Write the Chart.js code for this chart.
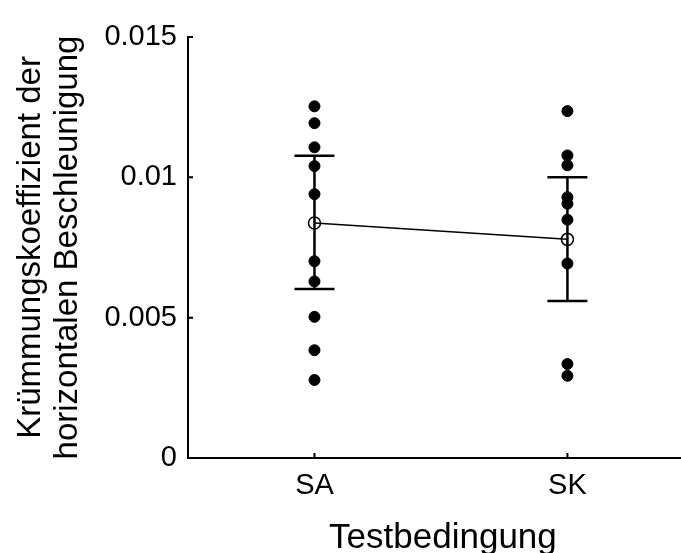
<!DOCTYPE html>
<html>
<head>
<meta charset="utf-8">
<script src="https://cdn.jsdelivr.net/npm/chart.js@4.4.0/dist/chart.umd.min.js"></script>
<style>
  html, body { margin: 0; padding: 0; background: #fff; }
</style>
</head>
<body>
<canvas id="chart" width="681" height="553"></canvas>
<script>
// values
const categories = ['SA', 'SK'];
const saValues = [0.01253, 0.01193, 0.01107, 0.01040, 0.00940, 0.00701, 0.00629, 0.00503, 0.00384, 0.00278];
const skValues = [0.01236, 0.01078, 0.01043, 0.00929, 0.00906, 0.00849, 0.00693, 0.00335, 0.00293];
const means    = [0.00837, 0.00779];
const errLow   = [0.00602, 0.00559];
const errHigh  = [0.01077, 0.01000];
const yTicks      = [0, 0.005, 0.01, 0.015];
const yTickLabels = ['0', '0.005', '0.01', '0.015'];
const xTitle = 'Testbedingung';
const yTitle = ['Krümmungskoeffizient der', 'horizontalen Beschleunigung'];

const FONT = '"Liberation Sans", Arial, Helvetica, sans-serif';

/* error bars, inward tick marks and the x title, positioned through the chart scales */
const errorBars = {
  id: 'errorBars',
  afterDatasetsDraw(chart) {
    const { ctx, scales: { x, y } } = chart;
    ctx.save();
    ctx.strokeStyle = '#000';
    ctx.lineWidth = 2.5;
    means.forEach((m, i) => {
      const px  = x.getPixelForValue(i + 1);
      const top = y.getPixelForValue(errHigh[i]);
      const bot = y.getPixelForValue(errLow[i]);
      ctx.beginPath();
      ctx.moveTo(px, top); ctx.lineTo(px, bot);
      ctx.moveTo(px - 20, top); ctx.lineTo(px + 20, top);
      ctx.moveTo(px - 20, bot); ctx.lineTo(px + 20, bot);
      ctx.stroke();
    });
    // ticks pointing into the plot
    ctx.lineWidth = 2;
    ctx.beginPath();
    yTicks.forEach(v => {
      const py = y.getPixelForValue(v);
      ctx.moveTo(x.left, py); ctx.lineTo(x.left + 5, py);
    });
    categories.forEach((c, i) => {
      const px = x.getPixelForValue(i + 1);
      ctx.moveTo(px, y.bottom); ctx.lineTo(px, y.bottom - 5);
    });
    ctx.stroke();
    // x title, centred between the two conditions
    ctx.fillStyle = '#000';
    ctx.font = `35px ${FONT}`;
    ctx.textAlign = 'center';
    ctx.textBaseline = 'alphabetic';
    ctx.fillText(xTitle, x.getPixelForValue(1.5) + 2, x.bottom - 5);
    ctx.restore();
  }
};

const dotStyle = {
  pointRadius: 5.5, pointHoverRadius: 5.5, pointBorderWidth: 1,
  pointBackgroundColor: '#000', pointBorderColor: '#000',
};

new Chart(document.getElementById('chart'), {
  type: 'scatter',
  data: {
    datasets: [
      { label: 'SA', data: saValues.map(v => ({ x: 1, y: v })), ...dotStyle },
      { label: 'SK', data: skValues.map(v => ({ x: 2, y: v })), ...dotStyle },
      { label: 'Mittelwert', data: means.map((m, i) => ({ x: i + 1, y: m })),
        showLine: true, borderColor: '#000', borderWidth: 1.5,
        pointRadius: 6, pointHoverRadius: 6, pointBorderWidth: 1.5,
        pointBackgroundColor: 'rgba(0,0,0,0)', pointBorderColor: '#000' },
    ],
  },
  options: {
    responsive: false, animation: false, devicePixelRatio: 1,
    layout: { autoPadding: false, padding: { top: 37, right: 0, bottom: 0, left: 0 } },
    plugins: { legend: { display: false }, tooltip: { enabled: false } },
    scales: {
      x: {
        // the original axis runs past the right edge of the picture
        type: 'linear', position: 'bottom', min: 0.5, max: 2.449,
        afterBuildTicks: s => { s.ticks = categories.map((c, i) => ({ value: i + 1 })); },
        afterFit: s => { s.height = 95; s.paddingLeft = 0; s.paddingRight = 0; },
        grid: { display: false, drawTicks: false },
        border: { display: true, color: '#000', width: 2 },
        ticks: { callback: v => categories[v - 1], color: '#000', padding: 11, maxRotation: 0,
                 font: { family: FONT, size: 29 } },
        title: { display: false },
      },
      y: {
        min: 0, max: 0.015,
        afterBuildTicks: s => { s.ticks = yTicks.map(v => ({ value: v })); },
        afterFit: s => { s.width = 188; },
        grid: { display: false, drawTicks: false },
        border: { display: true, color: '#000', width: 2 },
        ticks: { callback: (v, i) => yTickLabels[i], color: '#000', padding: 11,
                 font: { family: FONT, size: 29 } },
        title: { display: true, text: yTitle,
                 color: '#000', font: { family: FONT, size: 33, lineHeight: 1.12 },
                 padding: { top: 12, bottom: 0 } },
      },
    },
  },
  plugins: [errorBars],
});
</script>
</body>
</html>
